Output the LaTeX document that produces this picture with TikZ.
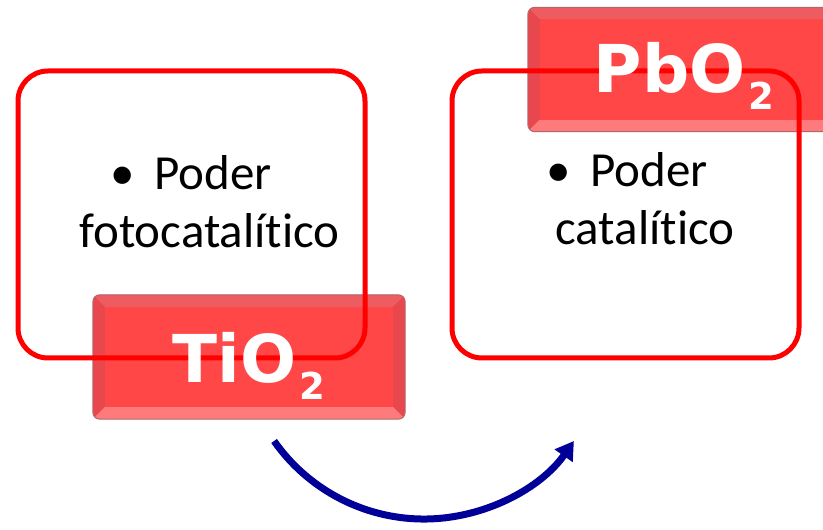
\documentclass[tikz,border=0pt]{standalone}
\usepackage{fontspec}
\newfontfamily\bodyfont[Ligatures=NoCommon]{Carlito}
\newfontfamily\labelfont{DejaVu Sans}
\usetikzlibrary{arrows.meta}
\definecolor{framered}{HTML}{FF0000}
\definecolor{boxred}{HTML}{E8474D}
\definecolor{boxmid}{HTML}{FF4747}
\definecolor{boxtop}{HTML}{EC5C61}
\definecolor{boxbot}{HTML}{FF7A7A}
\definecolor{boxedge}{HTML}{B0666C}
\definecolor{arrowblue}{HTML}{000099}
\tikzset{
  framebox/.style={draw=framered, line width=5pt, rounded corners=30pt,
    minimum width=347pt, minimum height=287pt, inner sep=0pt},
  labelbox/.style={fill=boxred, minimum width=312pt, minimum height=124pt,
    inner sep=0pt, rounded corners=7pt},
  labeltext/.style={text=white, anchor=base, inner sep=0pt,
    font=\labelfont\bfseries\fontsize{66}{66}\selectfont},
  bodytext/.style={align=center, anchor=north, inner sep=0pt,
    font=\bodyfont\fontsize{49}{58}\selectfont},
  turnarrow/.style={draw=arrowblue, line width=7pt,
    -{Triangle[length=18pt,width=21pt]}}
}
\newcommand{\subtwo}{\kern3pt\raisebox{-17pt}{\fontsize{37}{37}\selectfont 2}}

\begin{document}
\begin{tikzpicture}[x=1pt,y=1pt]
    \useasboundingbox (0,0) rectangle (823,530);
    % label boxes
    \node[labelbox] (tiBox) at (249,173) {};
    \node[labelbox] (pbBox) at (684,460.5) {};
    \foreach \b in {tiBox,pbBox}{
      \begin{scope}
        \clip[rounded corners=7pt] (\b.south west) rectangle (\b.north east);
        \fill[boxtop] (\b.north west) -- (\b.north east) -- ([shift={(-12,-12)}]\b.north east) -- ([shift={(12,-12)}]\b.north west) -- cycle;
        \fill[boxbot] (\b.south west) -- (\b.south east) -- ([shift={(-12,12)}]\b.south east) -- ([shift={(12,12)}]\b.south west) -- cycle;
        \fill[boxmid] ([shift={(12,-12)}]\b.north west) rectangle ([shift={(-12,12)}]\b.south east);
      \end{scope}
      \draw[boxedge, line width=1pt, rounded corners=7pt] (\b.south west) rectangle (\b.north east);
    }
    % frames
    \node[framebox] (tiFrame) at (191.5,315.5) {};
    \node[framebox] (pbFrame) at (625.5,315.5) {};
    \node[bodytext] (tiText) at (209.5,375) {\textbullet\ \,Poder\kern36pt\\fotocatalítico};
    \node[bodytext] (pbText) at (645,378) {\textbullet\ \,Poder\kern36pt\\catalítico};
    % names
    \node[labeltext] (tiName) at (249,147) {TiO\subtwo};
    \node[labeltext] (pbName) at (684,437) {PbO\subtwo};
    % arrow
    \coordinate (arcFrom) at (274.1,89);
    \draw[turnarrow] (arcFrom) arc[start angle=215, end angle=325, radius=183pt];
\end{tikzpicture}
\end{document}
